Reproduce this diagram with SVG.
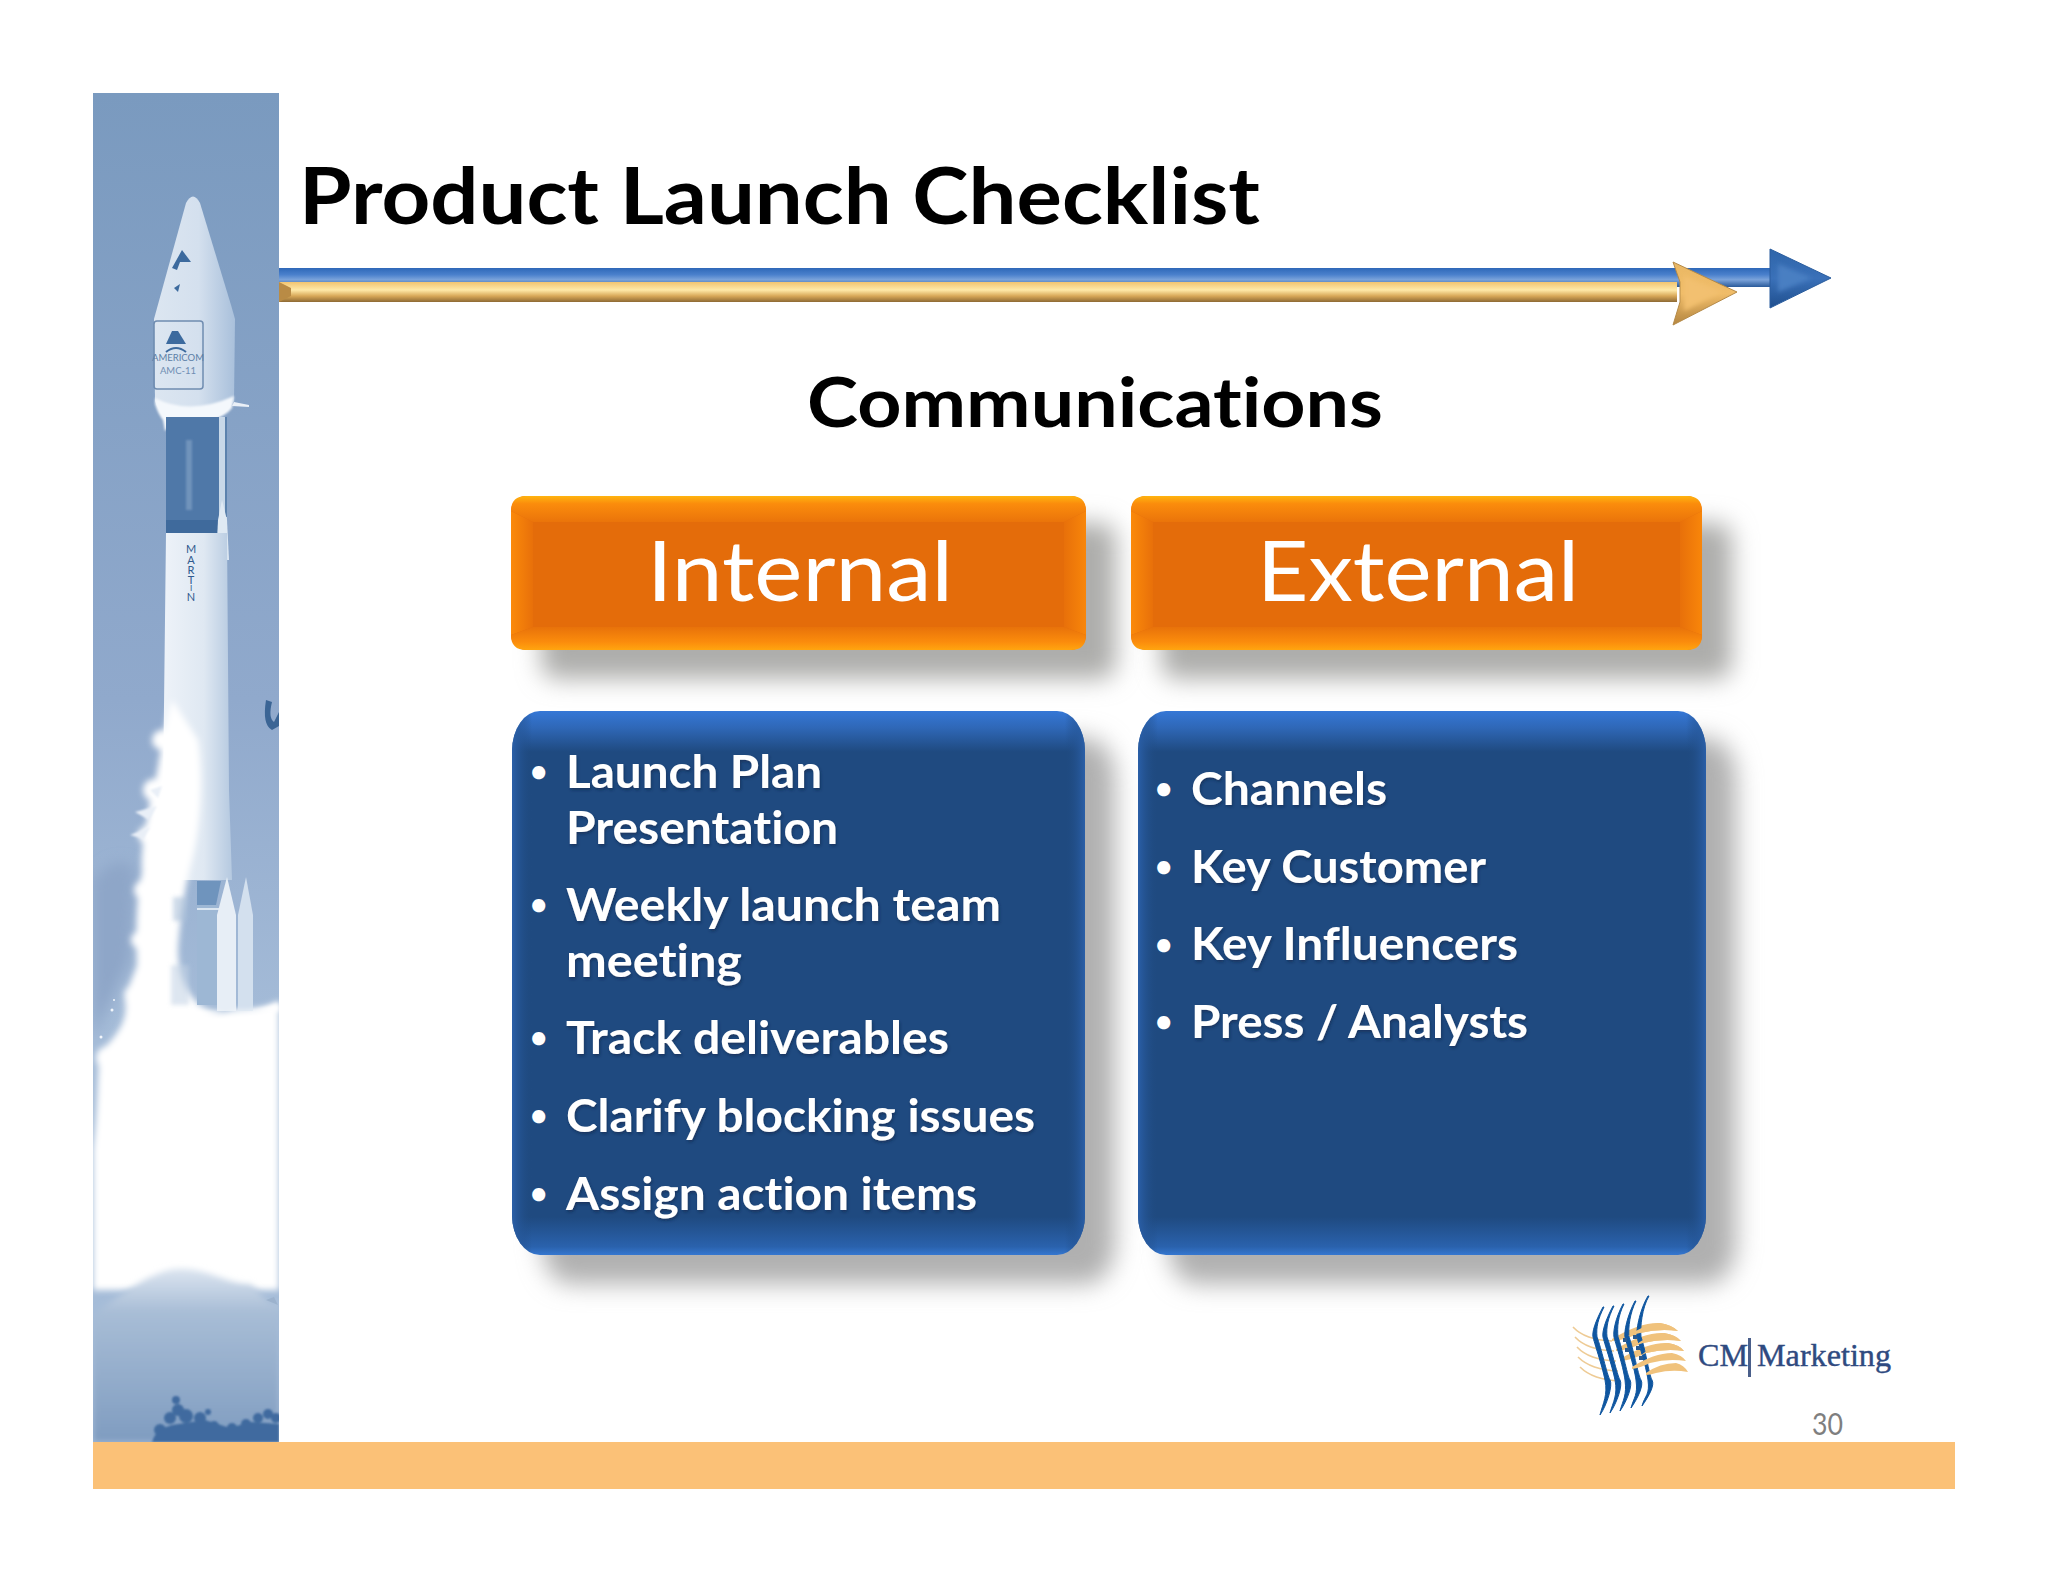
<svg xmlns="http://www.w3.org/2000/svg" width="2048" height="1582" viewBox="0 0 2048 1582">
<style>
.t{font-family:Lato,Carlito,"Liberation Sans",sans-serif;font-variant-ligatures:none}
.h{font-weight:700;fill:#000}
.b{font-weight:700;fill:#fff;font-size:46px;filter:url(#ts)}
.d{font-weight:700;fill:#fff;font-size:30px}
.l{font-weight:400;fill:#fff;font-size:84px;text-anchor:middle}
.sm{fill:#fff}
.tr{fill:#3f6a9f}
.bl{fill:#0f56a0;stroke:#0f56a0;stroke-width:1}
.gd{fill:#f0c27c}
.gt{fill:none;stroke:#eecb95;stroke-width:1.6}
.sq{fill:#2a5a90}
</style>
<defs>
<filter id="b1" x="-20%" y="-20%" width="140%" height="140%"><feGaussianBlur stdDeviation="1"/></filter>
<filter id="b2" x="-30%" y="-30%" width="160%" height="160%"><feGaussianBlur stdDeviation="2"/></filter>
<filter id="b3" x="-30%" y="-30%" width="160%" height="160%"><feGaussianBlur stdDeviation="3"/></filter>
<filter id="b7" x="-30%" y="-30%" width="160%" height="160%"><feGaussianBlur stdDeviation="7"/></filter>
<filter id="b12" x="-30%" y="-30%" width="160%" height="160%"><feGaussianBlur stdDeviation="12"/></filter>
<filter id="ts" x="-5%" y="-20%" width="110%" height="140%"><feDropShadow dx="1" dy="2" stdDeviation="1.5" flood-color="#10284a" flood-opacity=".6"/></filter>
<linearGradient id="sky" x1="0" y1="0" x2="0" y2="1"><stop offset="0" stop-color="#7a9abf"/><stop offset=".45" stop-color="#90a9cc"/><stop offset=".7" stop-color="#a5bcd8"/><stop offset="1" stop-color="#a5bcd8"/></linearGradient>
<linearGradient id="cloud" x1="0" y1="0" x2="0" y2="1"><stop offset="0" stop-color="#dce5f0"/><stop offset=".25" stop-color="#a8bdd6"/><stop offset="1" stop-color="#7f9cc0"/></linearGradient>
<linearGradient id="fair" x1="0" y1="0" x2="1" y2="0"><stop offset="0" stop-color="#dce6f1"/><stop offset=".55" stop-color="#d4e0ee"/><stop offset="1" stop-color="#a9c0db"/></linearGradient>
<linearGradient id="body" x1="0" y1="0" x2="1" y2="0"><stop offset="0" stop-color="#eef3f9"/><stop offset=".6" stop-color="#dfe8f2"/><stop offset="1" stop-color="#b5c9e0"/></linearGradient>
<linearGradient id="bs" x1="0" y1="0" x2="0" y2="1"><stop offset="0" stop-color="#2e68b8"/><stop offset=".35" stop-color="#4a80cc"/><stop offset=".62" stop-color="#7ba3da"/><stop offset="1" stop-color="#2a5a9a"/></linearGradient>
<linearGradient id="gs" x1="0" y1="0" x2="0" y2="1"><stop offset="0" stop-color="#f2c470"/><stop offset=".4" stop-color="#ffe9a8"/><stop offset=".7" stop-color="#d8a858"/><stop offset="1" stop-color="#8e6a34"/></linearGradient>
<linearGradient id="bh" x1="0" y1="0" x2="0" y2="1"><stop offset="0" stop-color="#2f66aa"/><stop offset=".5" stop-color="#3a70b8"/><stop offset="1" stop-color="#1f4f8e"/></linearGradient>
<linearGradient id="gh" x1="0" y1="0" x2="0" y2="1"><stop offset="0" stop-color="#eab864"/><stop offset=".5" stop-color="#f0bc68"/><stop offset="1" stop-color="#b48640"/></linearGradient>
<linearGradient id="ot" x1="0" y1="0" x2="0" y2="1"><stop offset="0" stop-color="#ffb40f"/><stop offset=".3" stop-color="#fb8c0c"/><stop offset="1" stop-color="#ea740a"/></linearGradient>
<linearGradient id="ob" x1="0" y1="1" x2="0" y2="0"><stop offset="0" stop-color="#ffa50f"/><stop offset=".35" stop-color="#fb8c0c"/><stop offset="1" stop-color="#e8720a"/></linearGradient>
<linearGradient id="ol" x1="0" y1="0" x2="1" y2="0"><stop offset="0" stop-color="#fb8a0a"/><stop offset="1" stop-color="#e8700a"/></linearGradient>
<linearGradient id="or" x1="1" y1="0" x2="0" y2="0"><stop offset="0" stop-color="#f8860a"/><stop offset="1" stop-color="#e8700a"/></linearGradient>
<linearGradient id="bt" x1="0" y1="0" x2="0" y2="1"><stop offset="0" stop-color="#3577d6"/><stop offset=".03" stop-color="#2f68b8"/><stop offset=".075" stop-color="#1f4a80"/><stop offset=".93" stop-color="#1f4a80"/><stop offset=".985" stop-color="#2a62ad"/><stop offset="1" stop-color="#3577d0"/></linearGradient>
<linearGradient id="bx" x1="0" y1="0" x2="1" y2="0"><stop offset="0" stop-color="#2a5fa8"/><stop offset=".035" stop-color="#1f4a80" stop-opacity="0"/><stop offset=".965" stop-color="#1f4a80" stop-opacity="0"/><stop offset="1" stop-color="#2a5fa8"/></linearGradient>
<clipPath id="pn"><rect x="93" y="93" width="186" height="1349"/></clipPath>
</defs>
<rect width="2048" height="1582" fill="#fff"/>

<g id="rocket-panel" clip-path="url(#pn)">
<rect x="93" y="93" width="186" height="1349" fill="url(#sky)"/>
<path d="M93 880Q120 850 135 870L130 960Q110 1000 93 1040Z" fill="#8ea6c8" filter="url(#b7)"/>
<g id="rocket">
<path d="M186 203Q193 190 200 203L231 305L235 319L234 401Q226 416 212 419L170 419Q158 412 155 401L154 319Z" fill="url(#fair)"/>
<path d="M155 398Q190 416 234 396L232 408Q226 416 212 420L172 425L165 431L163 420Q158 414 155 404Z" fill="#f4f8fc" filter="url(#b1)"/>
<path d="M234 402L249 405L249 407L232 406Z" fill="#eaf0f7"/>
<rect x="154" y="321" width="49" height="68" rx="3" fill="none" stroke="#6f8cb0" stroke-width="1.5"/>
<path d="M172 331L178 331L186 344H166Z" fill="#3c6a9e"/>
<path d="M166 352Q176 344 186 352" fill="none" stroke="#3c6a9e" stroke-width="2"/>
<path d="M172 268L182 250L191 262H180L177 270Z" fill="#3c6a9e"/>
<path d="M174 288L180 284L178 292Z" fill="#3c6a9e"/>
<text class="t" x="178" y="361" font-size="9.500" text-anchor="middle" fill="#5c7ea6">AMERICOM</text>
<text class="t" x="178" y="374" font-size="9.500" text-anchor="middle" fill="#6f8db2">AMC-11</text>
<rect x="166" y="417" width="53" height="116" fill="#4f78a8"/>
<rect x="186" y="440" width="6" height="70" fill="#6f93bb" filter="url(#b1)"/>
<rect x="166" y="520" width="53" height="13" fill="#3f6a9c"/>
<rect x="219" y="417" width="8" height="135" fill="#c8d8e8"/>
<rect x="225" y="417" width="2" height="100" fill="#5c82ad"/>
<path d="M222 500L227 520L229 560H216L218 520Z" fill="#dfe9f3"/>
<path d="M166 533H227L229 790L232 880H162Z" fill="url(#body)"/>
<text class="t" x="191" y="553" font-size="11" text-anchor="middle" fill="#2f5a8e">M</text>
<text class="t" x="191" y="564" font-size="11" text-anchor="middle" fill="#2f5a8e">A</text>
<text class="t" x="191" y="574" font-size="11" text-anchor="middle" fill="#2f5a8e">R</text>
<text class="t" x="191" y="584" font-size="11" text-anchor="middle" fill="#2f5a8e">T</text>
<text class="t" x="191" y="591" font-size="8" text-anchor="middle" fill="#2f5a8e">I</text>
<text class="t" x="191" y="601" font-size="11" text-anchor="middle" fill="#2f5a8e">N</text>
</g>
<g id="smoke" filter="url(#b3)">
<path class="sm" d="M172 700C160 740 158 780 150 800C146 826 140 850 142 872C136 900 136 930 137 965C130 985 124 995 125 1001C128 1020 118 1035 100 1052C97 1080 98 1110 93 1149V1290H279V1000C262 1012 240 1008 225 1012C200 1015 178 990 178 950C180 920 186 880 192 860C200 830 204 780 198 740Z"/>
<circle class="sm" cx="162" cy="740" r="10"/><circle class="sm" cx="154" cy="790" r="11"/><circle class="sm" cx="147" cy="835" r="9"/><circle class="sm" cx="144" cy="890" r="10"/><circle class="sm" cx="140" cy="940" r="9"/><circle class="sm" cx="134" cy="995" r="10"/><circle class="sm" cx="108" cy="1058" r="12"/>
</g>
<path d="M130 835l20 -8l-6 12zM135 812l22 -6l-8 14zM150 790l12 -4l-4 12z" fill="#e9eff7" filter="url(#b1)"/>
<g fill="#f2f6fb"><circle cx="112" cy="1010" r="1.500"/><circle cx="114" cy="1000" r="1"/><circle cx="101" cy="1037" r="1.500"/></g>
<g id="engines">
<path d="M197 881H221L216 905H197Z" fill="#6f94bd"/>
<rect x="197" y="905" width="20" height="100" fill="#9db7d4"/>
<rect x="197" y="908" width="22" height="2" fill="#dbe6f1"/>
<rect x="173" y="897" width="14" height="24" fill="#a9bfd8" opacity=".55" filter="url(#b2)"/>
<rect x="171" y="965" width="18" height="40" fill="#c2d2e4" opacity=".55" filter="url(#b2)"/>
<path d="M217 1011V915L227 877L236 915V1011Z" fill="#e7eef6"/>
<path d="M238 1011V915L246 877L253 915V1011Z" fill="#d3e0ee"/>
</g>
<path d="M170 1012H279V1003Q255 1012 240 1010L200 1016Z" class="sm" filter="url(#b2)"/>
<path id="cloud-bank" d="M93 1315C120 1295 150 1272 175 1269C205 1266 225 1284 250 1284C262 1292 270 1310 279 1301V1442H93Z" fill="url(#cloud)" filter="url(#b3)"/>
<path d="M266 1300l12 5l-4 -8z" fill="#9cb2cd"/>
<g id="trees" filter="url(#b1)">
<path class="tr" d="M152 1442C155 1432 162 1428 172 1425L205 1420L230 1428L250 1422L279 1424V1442Z"/>
<circle class="tr" cx="176" cy="1400" r="4"/><circle class="tr" cx="178" cy="1410" r="6"/><circle class="tr" cx="170" cy="1418" r="6"/><circle class="tr" cx="186" cy="1416" r="7"/><circle class="tr" cx="160" cy="1430" r="6"/><circle class="tr" cx="200" cy="1418" r="6"/><circle class="tr" cx="208" cy="1412" r="3"/><circle class="tr" cx="214" cy="1426" r="5"/><circle class="tr" cx="232" cy="1428" r="5"/><circle class="tr" cx="246" cy="1424" r="5"/><circle class="tr" cx="258" cy="1418" r="5"/><circle class="tr" cx="268" cy="1414" r="5"/><circle class="tr" cx="276" cy="1418" r="5"/>
</g>
<path d="M266 700Q262 725 272 730L279 726V712L274 722Q268 718 272 702Z" fill="#3b6595"/>
</g>

<rect id="footer-bar" x="93" y="1442" width="1862" height="47" fill="#fbc177"/>

<g id="arrows">
<g id="arrow-blue">
<rect x="279" y="268" width="1495" height="19" fill="url(#bs)"/>
<path d="M1770 249L1831 278L1770 308L1770 287V268Z" fill="url(#bh)" stroke="#2a5d9e" stroke-width="1"/>
<path d="M1778 264L1812 278L1778 292Z" fill="#4a7fc2" filter="url(#b2)"/>
</g>
<g id="arrow-gold">
<rect x="279" y="282" width="1398" height="20" fill="url(#gs)"/>
<path d="M279 282L291 288V296L279 302Z" fill="#b98b45"/>
<path d="M1673 262L1737 292L1673 325L1680 302V282Z" fill="url(#gh)" stroke="#b58a48" stroke-width="1"/>
<path d="M1684 276L1722 292L1684 311Z" fill="#f2c070" filter="url(#b2)"/>
</g>
</g>

<g id="title">
<text class="t h" x="299" y="224" font-size="78" textLength="961" lengthAdjust="spacingAndGlyphs">Product Launch Checklist</text>
<text class="t h" x="807" y="427" font-size="68" textLength="576" lengthAdjust="spacingAndGlyphs">Communications</text>
</g>

<g id="node-internal">
<rect x="541" y="523" width="575" height="156" rx="16" fill="#adadab" filter="url(#b12)"/>
<rect x="511" y="496" width="575" height="154" rx="15" fill="#e46c0a"/>
<path d="M511 511L533 522V627L511 635Z" fill="url(#ol)"/>
<path d="M1086 511L1064 522V627L1086 635Z" fill="url(#or)"/>
<path d="M511 511Q511 496 526 496H1071Q1086 496 1086 511L1064 522H533Z" fill="url(#ot)"/>
<path d="M511 635Q511 650 526 650H1071Q1086 650 1086 635L1064 627H533Z" fill="url(#ob)"/>
<text class="t l" x="800" y="601" textLength="306" lengthAdjust="spacingAndGlyphs">Internal</text>
</g>
<g id="node-external">
<rect x="1161" y="523" width="571" height="156" rx="16" fill="#adadab" filter="url(#b12)"/>
<rect x="1131" y="496" width="571" height="154" rx="15" fill="#e46c0a"/>
<path d="M1131 511L1153 522V627L1131 635Z" fill="url(#ol)"/>
<path d="M1702 511L1680 522V627L1702 635Z" fill="url(#or)"/>
<path d="M1131 511Q1131 496 1146 496H1687Q1702 496 1702 511L1680 522H1153Z" fill="url(#ot)"/>
<path d="M1131 635Q1131 650 1146 650H1687Q1702 650 1702 635L1680 627H1153Z" fill="url(#ob)"/>
<text class="t l" x="1418" y="601" textLength="322" lengthAdjust="spacingAndGlyphs">External</text>
</g>

<g id="node-internal-list">
<rect x="542" y="738" width="573" height="546" rx="28" ry="40" fill="#b0b0b0" filter="url(#b12)"/>
<rect x="512" y="711" width="573" height="544" rx="28" ry="40" fill="url(#bt)"/>
<rect x="512" y="711" width="573" height="544" rx="28" ry="40" fill="url(#bx)"/>
<g class="t">
<text class="d" x="530" y="782">•</text><text class="b" x="566" y="788" textLength="256" lengthAdjust="spacingAndGlyphs">Launch Plan</text>
<text class="b" x="566" y="844" textLength="272" lengthAdjust="spacingAndGlyphs">Presentation</text>
<text class="d" x="530" y="915">•</text><text class="b" x="566" y="921" textLength="435" lengthAdjust="spacingAndGlyphs">Weekly launch team</text>
<text class="b" x="566" y="977" textLength="176" lengthAdjust="spacingAndGlyphs">meeting</text>
<text class="d" x="530" y="1048">•</text><text class="b" x="566" y="1054" textLength="383" lengthAdjust="spacingAndGlyphs">Track deliverables</text>
<text class="d" x="530" y="1126">•</text><text class="b" x="566" y="1132" textLength="469" lengthAdjust="spacingAndGlyphs">Clarify blocking issues</text>
<text class="d" x="530" y="1204">•</text><text class="b" x="566" y="1210" textLength="411" lengthAdjust="spacingAndGlyphs">Assign action items</text>
</g>
</g>
<g id="node-external-list">
<rect x="1168" y="738" width="568" height="546" rx="28" ry="40" fill="#b0b0b0" filter="url(#b12)"/>
<rect x="1138" y="711" width="568" height="544" rx="28" ry="40" fill="url(#bt)"/>
<rect x="1138" y="711" width="568" height="544" rx="28" ry="40" fill="url(#bx)"/>
<g class="t">
<text class="d" x="1155" y="799">•</text><text class="b" x="1191" y="805" textLength="196" lengthAdjust="spacingAndGlyphs">Channels</text>
<text class="d" x="1155" y="877">•</text><text class="b" x="1191" y="883" textLength="295" lengthAdjust="spacingAndGlyphs">Key Customer</text>
<text class="d" x="1155" y="955">•</text><text class="b" x="1191" y="960" textLength="327" lengthAdjust="spacingAndGlyphs">Key Influencers</text>
<text class="d" x="1155" y="1032">•</text><text class="b" x="1191" y="1038" textLength="337" lengthAdjust="spacingAndGlyphs">Press / Analysts</text>
</g>
</g>

<g id="logo">
<path class="gt" d="M1573 1327Q1585 1340 1612 1341"/>
<path class="gt" d="M1575 1337Q1587 1350 1614 1351"/>
<path class="gt" d="M1577 1347Q1589 1360 1616 1361"/>
<path class="gt" d="M1578 1357Q1591 1370 1618 1371"/>
<path class="gt" d="M1580 1367Q1593 1380 1620 1381"/>
<path class="gd" d="M1612 1339Q1640 1322 1660 1323Q1672 1325 1678 1331Q1660 1328 1640 1333Q1625 1340 1612 1341Z"/>
<path class="gd" d="M1616 1349Q1644 1332 1664 1333Q1676 1335 1681 1341Q1663 1338 1643 1343Q1628 1350 1616 1351Z"/>
<path class="gd" d="M1620 1359Q1648 1342 1668 1343Q1680 1345 1684 1351Q1666 1348 1646 1353Q1632 1360 1620 1361Z"/>
<path class="bl" d="M1603 1307C1595 1322 1592 1332 1593 1337S1602 1365 1605 1380S1603 1403 1600 1415C1607 1405 1613 1385 1610 1380S1601 1347 1597 1337C1596 1327 1598 1319 1604 1307Z"/>
<path class="bl" d="M1613 1306C1605 1321 1602 1332 1603 1337S1612 1365 1615 1380S1613 1402 1610 1413C1617 1403 1623 1385 1620 1380S1611 1347 1607 1337C1606 1327 1608 1318 1614 1306Z"/>
<path class="bl" d="M1623 1304C1615 1319 1613 1332 1614 1337S1623 1365 1625 1380S1623 1400 1620 1411C1627 1401 1633 1385 1630 1380S1622 1347 1618 1337C1617 1327 1618 1316 1624 1304Z"/>
<path class="bl" d="M1635 1301C1627 1316 1624 1332 1625 1337S1634 1365 1636 1380S1634 1397 1631 1408C1638 1398 1644 1385 1641 1380S1633 1347 1629 1337C1628 1327 1630 1313 1636 1301Z"/>
<path class="bl" d="M1648 1296C1639 1311 1636 1332 1637 1337S1646 1365 1648 1380S1645 1395 1642 1406C1649 1396 1655 1385 1652 1380S1645 1347 1641 1337C1640 1327 1642 1308 1649 1296Z"/>
<path class="gd" d="M1628 1336Q1645 1324 1660 1323Q1672 1325 1678 1331Q1660 1328 1640 1333Z"/>
<path class="gd" d="M1634 1346Q1650 1334 1664 1333Q1676 1335 1681 1341Q1663 1338 1643 1343Z"/>
<path class="gd" d="M1640 1356Q1654 1344 1668 1343Q1680 1345 1684 1351Q1666 1348 1646 1353Z"/>
<path class="gd" d="M1632 1367Q1654 1353 1672 1353Q1682 1355 1686 1361Q1668 1358 1650 1363Q1640 1368 1632 1369Z"/>
<path class="gd" d="M1646 1373Q1660 1363 1676 1363Q1684 1365 1688 1372Q1672 1369 1656 1373Q1650 1375 1646 1375Z"/>
<rect class="sq" x="1623" y="1338" width="4" height="4"/><rect class="sq" x="1633" y="1335" width="4" height="4"/><rect class="sq" x="1625" y="1348" width="4" height="4"/><rect class="sq" x="1636" y="1346" width="4" height="4"/><rect class="sq" x="1639" y="1356" width="4" height="4"/>
<text x="1698" y="1366" font-family="'Liberation Serif',serif" font-size="31" fill="#2f4a80" stroke="#2f4a80" stroke-width=".4" textLength="50" lengthAdjust="spacingAndGlyphs">CM</text>
<rect x="1748" y="1338" width="3" height="39" fill="#4a5f8a"/>
<text x="1757" y="1366" font-family="'Liberation Serif',serif" font-size="31" fill="#2f4a80" stroke="#2f4a80" stroke-width=".4" textLength="134" lengthAdjust="spacingAndGlyphs">Marketing</text>
</g>
<text id="page-number" class="t" x="1812" y="1435" font-size="30" fill="#7f7f7f" textLength="31" lengthAdjust="spacingAndGlyphs">30</text>
</svg>
